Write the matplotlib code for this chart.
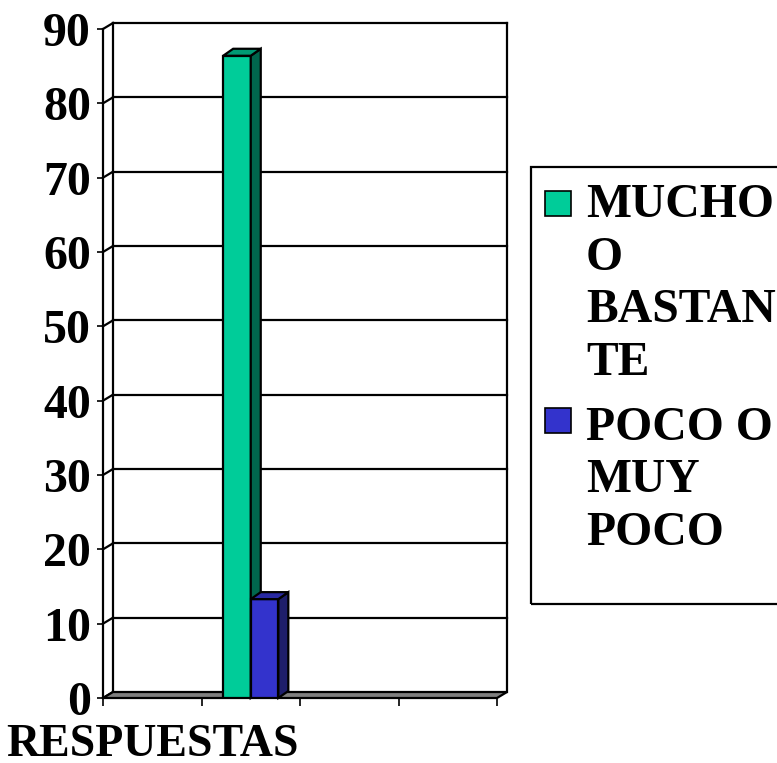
import matplotlib
matplotlib.use("Agg")
import matplotlib.pyplot as plt
from matplotlib.patches import Polygon, Rectangle

# ---- data ----
categories = ["RESPUESTAS"]
series_labels = ["MUCHO\nO\nBASTAN\nTE", "POCO O\nMUY\nPOCO"]
series_values = [86.4, 13.3]
series_front = ["#00CC99", "#3333CC"]
series_side = ["#00664D", "#1E1E6B"]
series_top = ["#009A74", "#2929A3"]
yticks = [0, 10, 20, 30, 40, 50, 60, 70, 80, 90]

FONT = "Liberation Serif"
FS_Y = 34.5
FS_X = 33
FS_L = 34.3

W, H = 777, 763
fig = plt.figure(figsize=(W / 100, H / 100), dpi=100)
fig.patch.set_facecolor("white")
ax = fig.add_axes([103 / W, 1 - 698 / H, (497 - 103) / W, (698 - 29) / H])
ax.set_xlim(0, 4)
ax.set_ylim(0, 90)
ax.set_facecolor("none")
for s in ax.spines.values():
    s.set_visible(False)

bb = ax.get_window_extent()
ppx = bb.width / 4.0
ppy = bb.height / 90.0
dxw, dyw = 10 / ppx, 6 / ppy   # wall depth
dxb, dyb = 10 / ppx, 7 / ppy   # bar depth
LW = 1.6

# floor
ax.add_patch(Polygon([(0, 0), (4, 0), (4 + dxw, dyw), (dxw, dyw)], closed=True,
                     fc="#808080", ec="black", lw=LW, zorder=1, clip_on=False))
# back wall gridlines and edges
for y in yticks[1:]:
    ax.plot([dxw, 4 + dxw], [y + dyw, y + dyw], color="black", lw=LW, zorder=0.5, clip_on=False)
ax.plot([dxw, dxw], [dyw, 90 + dyw], color="black", lw=LW, zorder=0.5, clip_on=False)
ax.plot([4 + dxw, 4 + dxw], [dyw, 90 + dyw], color="black", lw=LW, zorder=0.5, clip_on=False)
# side wall diagonals
for y in yticks:
    ax.plot([0, dxw], [y, y + dyw], color="black", lw=LW, zorder=0.6, clip_on=False)
# front vertical axis
ax.plot([0, 0], [0, 90], color="black", lw=LW, zorder=0.6, clip_on=False)

# bars
w = 0.28
center = 1.5
for i, (v, cf, cs, ct) in enumerate(zip(series_values, series_front, series_side, series_top)):
    x0 = center - w + i * w
    x1 = x0 + w
    z = 3 + i
    ax.bar([x0], [v], width=w, align="edge", color=cf, edgecolor="black", lw=LW, zorder=z)
    ax.add_patch(Polygon([(x1, 0), (x1 + dxb, dyb), (x1 + dxb, v + dyb), (x1, v)], closed=True,
                         fc=cs, ec="black", lw=LW, zorder=z, clip_on=False))
    ax.add_patch(Polygon([(x0, v), (x1, v), (x1 + dxb, v + dyb), (x0 + dxb, v + dyb)], closed=True,
                         fc=ct, ec="black", lw=LW, zorder=z, clip_on=False))

# ticks
ax.set_yticks(yticks)
ax.set_yticklabels([str(t) for t in yticks], fontfamily=FONT, fontweight="bold", fontsize=FS_Y)
ax.tick_params(axis="y", length=4.3, width=1.2, pad=4.3, color="black")
ax.set_xticks([0.5])
ax.set_xticklabels(categories, fontfamily=FONT, fontweight="bold", fontsize=FS_X)
ax.set_xticks([0, 1, 2, 3, 4], minor=True)
ax.tick_params(axis="x", which="major", length=0, pad=18.5)
ax.tick_params(axis="x", which="minor", length=5.5, width=1.2, color="black")

# legend (manual)
fig.patches.append(Rectangle((531 / W, 1 - 604 / H), 300 / W, (604 - 167) / H,
                             transform=fig.transFigure, fill=False, ec="black", lw=LW))
marker_tops = [191, 408]
first_baselines = [217, 440]
line_step = 52.5
for lab, cf, mt, fb in zip(series_labels, series_front, marker_tops, first_baselines):
    fig.patches.append(Rectangle((545 / W, 1 - (mt + 25) / H), 26 / W, 25 / H,
                                 transform=fig.transFigure, fc=cf, ec="black", lw=1.2))
    for k, line in enumerate(lab.split("\n")):
        fig.text(586 / W, 1 - (fb + k * line_step) / H, line, fontfamily=FONT,
                 fontweight="bold", fontsize=FS_L, va="baseline", ha="left")

fig.savefig("out.png", dpi=100, facecolor="white")
